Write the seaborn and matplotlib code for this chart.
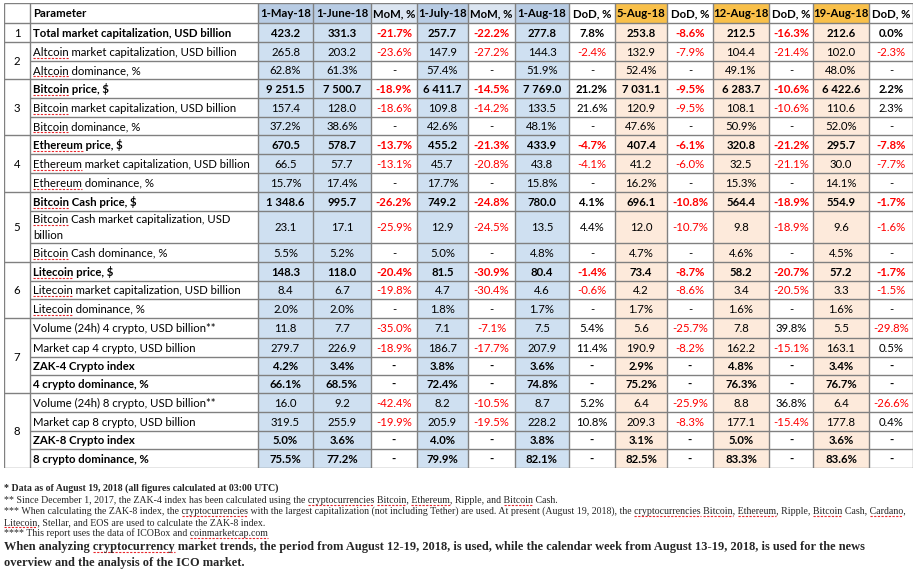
import re
import numpy as np
import matplotlib
matplotlib.use('Agg')
import matplotlib.pyplot as plt
from matplotlib.colors import ListedColormap
from matplotlib.font_manager import FontProperties
from matplotlib.transforms import offset_copy
import seaborn as sns

# ---- data -------------------------------------------------------------
headers = ['1-May-18', '1-June-18', 'MoM, %', '1-July-18', 'MoM, %', '1-Aug-18', 'DoD, %',
           '5-Aug-18', 'DoD, %', '12-Aug-18', 'DoD, %', '19-Aug-18', 'DoD, %']

parameters = [
    'Total market capitalization, USD billion',
    'Altcoin market capitalization, USD billion',
    'Altcoin dominance, %',
    'Bitcoin price, $',
    'Bitcoin market capitalization, USD billion',
    'Bitcoin dominance, %',
    'Ethereum price, $',
    'Ethereum market capitalization, USD billion',
    'Ethereum dominance, %',
    'Bitcoin Cash price, $',
    'Bitcoin Cash market capitalization, USD\nbillion',
    'Bitcoin Cash dominance, %',
    'Litecoin price, $',
    'Litecoin market capitalization, USD billion',
    'Litecoin dominance, %',
    'Volume (24h) 4 crypto, USD billion**',
    'Market cap 4 crypto, USD billion',
    'ZAK-4 Crypto index',
    '4 crypto dominance, %',
    'Volume (24h) 8 crypto, USD billion**',
    'Market cap 8 crypto, USD billion',
    'ZAK-8 Crypto index',
    '8 crypto dominance, %',
]
groups = [1, 2, 2, 3, 3, 3, 4, 4, 4, 5, 5, 5, 6, 6, 6, 7, 7, 7, 7, 8, 8, 8, 8]
bold_rows = [0, 3, 6, 9, 12, 17, 18, 21, 22]
pct_rows = [2, 5, 8, 11, 14, 17, 18, 21, 22]

may_18 = [423.2, 265.8, 62.8, 9251.5, 157.4, 37.2, 670.5, 66.5, 15.7, 1348.6, 23.1, 5.5,
          148.3, 8.4, 2.0, 11.8, 279.7, 4.2, 66.1, 16.0, 319.5, 5.0, 75.5]
june_18 = [331.3, 203.2, 61.3, 7500.7, 128.0, 38.6, 578.7, 57.7, 17.4, 995.7, 17.1, 5.2,
           118.0, 6.7, 2.0, 7.7, 226.9, 3.4, 68.5, 9.2, 255.9, 3.6, 77.2]
mom_june = [-21.7, -23.6, None, -18.9, -18.6, None, -13.7, -13.1, None, -26.2, -25.9, None,
            -20.4, -19.8, None, -35.0, -18.9, None, None, -42.4, -19.9, None, None]
july_18 = [257.7, 147.9, 57.4, 6411.7, 109.8, 42.6, 455.2, 45.7, 17.7, 749.2, 12.9, 5.0,
           81.5, 4.7, 1.8, 7.1, 186.7, 3.8, 72.4, 8.2, 205.9, 4.0, 79.9]
mom_july = [-22.2, -27.2, None, -14.5, -14.2, None, -21.3, -20.8, None, -24.8, -24.5, None,
            -30.9, -30.4, None, -7.1, -17.7, None, None, -10.5, -19.5, None, None]
aug_1 = [277.8, 144.3, 51.9, 7769.0, 133.5, 48.1, 433.9, 43.8, 15.8, 780.0, 13.5, 4.8,
         80.4, 4.6, 1.7, 7.5, 207.9, 3.6, 74.8, 8.7, 228.2, 3.8, 82.1]
dod_aug_1 = [7.8, -2.4, None, 21.2, 21.6, None, -4.7, -4.1, None, 4.1, 4.4, None,
             -1.4, -0.6, None, 5.4, 11.4, None, None, 5.2, 10.8, None, None]
aug_5 = [253.8, 132.9, 52.4, 7031.1, 120.9, 47.6, 407.4, 41.2, 16.2, 696.1, 12.0, 4.7,
         73.4, 4.2, 1.7, 5.6, 190.9, 2.9, 75.2, 6.4, 209.3, 3.1, 82.5]
dod_aug_5 = [-8.6, -7.9, None, -9.5, -9.5, None, -6.1, -6.0, None, -10.8, -10.7, None,
             -8.7, -8.6, None, -25.7, -8.2, None, None, -25.9, -8.3, None, None]
aug_12 = [212.5, 104.4, 49.1, 6283.7, 108.1, 50.9, 320.8, 32.5, 15.3, 564.4, 9.8, 4.6,
          58.2, 3.4, 1.6, 7.8, 162.2, 4.8, 76.3, 8.8, 177.1, 5.0, 83.3]
dod_aug_12 = [-16.3, -21.4, None, -10.6, -10.6, None, -21.2, -21.1, None, -18.9, -18.9, None,
              -20.7, -20.5, None, 39.8, -15.1, None, None, 36.8, -15.4, None, None]
aug_19 = [212.6, 102.0, 48.0, 6422.6, 110.6, 52.0, 295.7, 30.0, 14.1, 554.9, 9.6, 4.5,
          57.2, 3.3, 1.6, 5.5, 163.1, 3.4, 76.7, 6.4, 177.8, 3.6, 83.6]
dod_aug_19 = [0.0, -2.3, None, 2.2, 2.3, None, -7.8, -7.7, None, -1.7, -1.6, None,
              -1.7, -1.5, None, -29.8, 0.5, None, None, -26.6, 0.4, None, None]

value_columns = [may_18, june_18, mom_june, july_18, mom_july, aug_1, dod_aug_1,
                 aug_5, dod_aug_5, aug_12, dod_aug_12, aug_19, dod_aug_19]
change_columns = [2, 4, 6, 8, 10, 12]

footnotes = [
    ('* Data as of August 19, 2018 (all figures calculated at 03:00 UTC)', 'bold'),
    ('** Since December 1, 2017, the ZAK-4 index has been calculated using the cryptocurrencies '
     'Bitcoin, Ethereum, Ripple, and Bitcoin Cash.', 'normal'),
    ('*** When calculating the ZAK-8 index, the cryptocurrencies with the largest capitalization '
     '(not including Tether) are used. At present (August 19, 2018), the cryptocurrencies Bitcoin, '
     'Ethereum, Ripple, Bitcoin Cash, Cardano,', 'normal'),
    ('Litecoin, Stellar, and EOS are used to calculate the ZAK-8 index.', 'normal'),
    ('**** This report uses the data of ICOBox and coinmarketcap.com', 'normal'),
]
summary = ['When analyzing cryptocurrency market trends, the period from August 12-19, 2018, is used, '
           'while the calendar week from August 13-19, 2018, is used for the news',
           'overview and the analysis of the ICO market.']
flagged_words = ['Altcoin', 'Bitcoin', 'Ethereum', 'Litecoin', 'Cardano', 'cryptocurrencies',
                 'cryptocurrency', 'coinmarketcap.com']

# ---- layout (pixels) --------------------------------------------------
W, H = 923, 581
x_edges = [4, 30, 258, 313, 371, 417, 468, 515, 569, 615, 667, 713, 769, 813, 869, 913]
y_edges = [3, 23, 42, 61, 79, 98, 117, 135, 154, 173, 192, 211, 243, 262, 281, 299,
           318, 338, 357, 375, 393, 412, 431, 449, 468]
note_baselines = [491, 503, 514, 525, 536]
summary_baselines = [550, 566]

palette = ['#ffffff', '#cfe0f1', '#fdeadb', '#b8cce4', '#dbe5f1', '#f9c04a']
blue_cols, peach_cols = [2, 3, 5, 7], [9, 11, 13]
header_codes = [0, 0, 3, 3, 4, 3, 4, 3, 0, 5, 0, 5, 0, 5, 0]

sns.set_style('white')
plt.rcParams['font.family'] = ['Lato', 'DejaVu Sans']

n_rows, n_cols = len(parameters) + 1, len(headers) + 2
codes = np.zeros((n_rows, n_cols))
codes[0] = header_codes
codes[1:, blue_cols] = 1
codes[1:, peach_cols] = 2

fig = plt.figure(figsize=(W / 100, H / 100), dpi=100)
fig.patch.set_facecolor('white')
ax = fig.add_axes([x_edges[0] / W, 1 - y_edges[-1] / H,
                   (x_edges[-1] - x_edges[0]) / W, (y_edges[-1] - y_edges[0]) / H])
sns.heatmap(codes, cmap=ListedColormap(palette), vmin=-0.5, vmax=len(palette) - 0.5,
            cbar=False, ax=ax, xticklabels=False, yticklabels=False, linewidths=0)

col_idx = np.arange(len(x_edges))
row_idx = np.arange(len(y_edges))
ax.set_xscale('function', functions=(lambda v: np.interp(v, col_idx, x_edges),
                                     lambda p: np.interp(p, x_edges, col_idx)))
ax.set_yscale('function', functions=(lambda v: np.interp(v, row_idx, y_edges),
                                     lambda p: np.interp(p, y_edges, row_idx)))
ax.set_xlim(0, n_cols)
ax.set_ylim(n_rows, 0)
ax.set_axis_off()

# grid lines, number column merged within each group
grid_color = '#808080'
group_edges = {0, 1, n_rows}
for i in range(1, len(groups)):
    if groups[i] != groups[i - 1]:
        group_edges.add(i + 1)
for k in range(n_rows + 1):
    ax.hlines(k, 0 if k in group_edges else 1, n_cols, colors=grid_color, lw=1)
ax.vlines(np.arange(n_cols + 1), 0, n_rows, colors=grid_color, lw=1)

# overlay in pixels for footnotes and spell-check squiggles
over = fig.add_axes([0, 0, 1, 1])
over.set_xlim(0, W)
over.set_ylim(H, 0)
over.set_axis_off()

fs = 8.2
reg = FontProperties(family='Lato', size=fs)
bold = FontProperties(family='Lato', weight='bold', size=fs)
base_off = 0.36 * fs * 100 / 72
renderer = fig.canvas.get_renderer()


def text_width(s, prop):
    return renderer.get_text_width_height_descent(s, prop, ismath=False)[0]


def squiggle(x, baseline, s, prop):
    for word in flagged_words:
        for m in re.finditer(r'(?<![\w.])' + re.escape(word) + r'(?![\w])', s):
            end = text_width(s[:m.end()], prop)
            start = end - text_width(word, prop)
            over.plot([x + start, x + end], [baseline + 2, baseline + 2], color='#e8252b',
                      lw=0.8, ls=(0, (2, 1.3)), solid_capstyle='butt')


def cell(col, row, s, prop, color='black', ha='center', dx=0, dy=0):
    tr = offset_copy(ax.transData, fig=fig, x=dx, y=-base_off - dy, units='dots')
    x = col + 0.5 if ha == 'center' else col
    ax.text(x, row + 0.5, s, transform=tr, ha=ha, va='baseline', color=color,
            fontproperties=prop)


# header
cell(1, 0, 'Parameter', bold, ha='left', dx=3)
for j, name in enumerate(headers):
    cell(j + 2, 0, name, bold)

# group numbers
for g in sorted(set(groups)):
    rows = [i + 1 for i, v in enumerate(groups) if v == g]
    cell(0, (rows[0] + rows[-1]) / 2, str(g), reg)

# body
for i, name in enumerate(parameters):
    row = i + 1
    prop = bold if i in bold_rows else reg
    centre = (y_edges[row] + y_edges[row + 1]) / 2
    lines = name.split('\n')
    shifts = [0] if len(lines) == 1 else [-8, 8]
    for line, dy in zip(lines, shifts):
        cell(1, row, line, prop, ha='left', dx=3, dy=dy)
        squiggle(x_edges[1] + 3, centre + base_off + dy, line, prop)
    for j, values in enumerate(value_columns):
        v = values[i]
        if j in change_columns:
            s = '-' if v is None else f'{v:.1f}%'
            color = 'red' if v is not None and v < 0 else 'black'
        elif i in pct_rows:
            s, color = f'{v:.1f}%', 'black'
        else:
            s, color = f'{v:,.1f}'.replace(',', ' '), 'black'
        cell(j + 2, row, s, prop, color=color)

# footnotes
note_reg = FontProperties(family='Liberation Serif', size=7.1)
note_bold = FontProperties(family='Liberation Serif', weight='bold', size=7.1)
for (s, weight), yb in zip(footnotes, note_baselines):
    prop = note_bold if weight == 'bold' else note_reg
    over.text(4, yb, s, fontproperties=prop, ha='left', va='baseline')
    squiggle(4, yb, s, prop)

big = FontProperties(family='Liberation Serif', weight='bold', size=8.95)
for s, yb in zip(summary, summary_baselines):
    over.text(4, yb, s, fontproperties=big, ha='left', va='baseline')
    squiggle(4, yb, s, big)

fig.savefig('out.png', dpi=100, facecolor='white')
